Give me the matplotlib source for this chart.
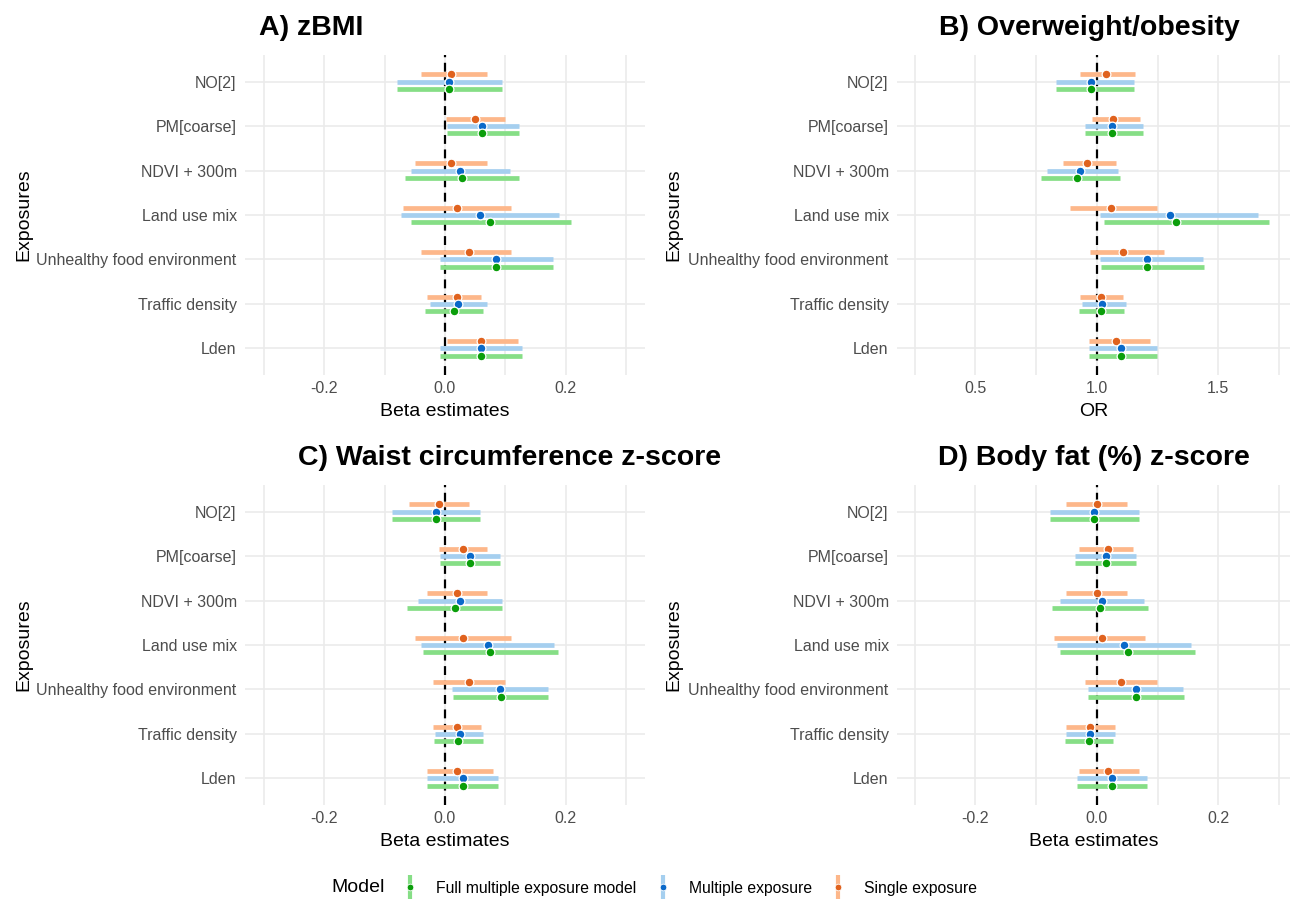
import matplotlib
matplotlib.use("Agg")
import matplotlib.pyplot as plt
from matplotlib.lines import Line2D
from matplotlib.legend_handler import HandlerTuple
import numpy as np

plt.rcParams['font.family'] = ['Liberation Sans', 'DejaVu Sans']

exposures = ["NO[2]", "PM[coarse]", "NDVI + 300m", "Land use mix",
             "Unhealthy food environment", "Traffic density", "Lden"]
models = ["Full multiple exposure model", "Multiple exposure", "Single exposure"]

# A) zBMI
a_single_est = [0.010, 0.050, 0.010, 0.020, 0.040, 0.020, 0.060]
a_single_lo = [-0.040, 0.001, -0.050, -0.070, -0.040, -0.030, 0.003]
a_single_hi = [0.070, 0.100, 0.070, 0.110, 0.110, 0.060, 0.120]
a_multi_est = [0.007, 0.062, 0.025, 0.058, 0.085, 0.022, 0.059]
a_multi_lo = [-0.080, 0.003, -0.057, -0.072, -0.008, -0.025, -0.009]
a_multi_hi = [0.094, 0.122, 0.107, 0.189, 0.179, 0.069, 0.128]
a_full_est = [0.007, 0.062, 0.028, 0.075, 0.085, 0.015, 0.059]
a_full_lo = [-0.080, 0.003, -0.066, -0.056, -0.008, -0.033, -0.009]
a_full_hi = [0.094, 0.122, 0.122, 0.208, 0.179, 0.063, 0.128]

# B) Overweight/obesity (OR)
b_single_est = [1.038, 1.068, 0.959, 1.058, 1.108, 1.018, 1.078]
b_single_lo = [0.929, 0.979, 0.860, 0.890, 0.970, 0.929, 0.968]
b_single_hi = [1.158, 1.178, 1.078, 1.248, 1.277, 1.108, 1.218]
b_multi_est = [0.977, 1.063, 0.929, 1.299, 1.205, 1.023, 1.099]
b_multi_lo = [0.832, 0.951, 0.793, 1.012, 1.012, 0.937, 0.968]
b_multi_hi = [1.151, 1.190, 1.088, 1.664, 1.438, 1.119, 1.248]
b_full_est = [0.977, 1.063, 0.918, 1.326, 1.208, 1.015, 1.099]
b_full_lo = [0.832, 0.951, 0.768, 1.030, 1.015, 0.927, 0.968]
b_full_hi = [1.151, 1.190, 1.097, 1.707, 1.442, 1.112, 1.248]

# C) Waist circumference z-score
c_single_est = [-0.010, 0.030, 0.020, 0.030, 0.040, 0.020, 0.020]
c_single_lo = [-0.060, -0.010, -0.030, -0.050, -0.020, -0.020, -0.030]
c_single_hi = [0.040, 0.070, 0.070, 0.110, 0.100, 0.060, 0.080]
c_multi_est = [-0.015, 0.041, 0.024, 0.071, 0.091, 0.024, 0.030]
c_multi_lo = [-0.088, -0.009, -0.045, -0.040, 0.012, -0.016, -0.029]
c_multi_hi = [0.058, 0.091, 0.094, 0.181, 0.170, 0.063, 0.088]
c_full_est = [-0.015, 0.041, 0.016, 0.075, 0.092, 0.022, 0.030]
c_full_lo = [-0.088, -0.009, -0.063, -0.036, 0.013, -0.018, -0.029]
c_full_hi = [0.058, 0.091, 0.095, 0.187, 0.171, 0.063, 0.088]

# D) Body fat (%) z-score
d_single_est = [0.000, 0.019, 0.000, 0.009, 0.039, -0.011, 0.019]
d_single_lo = [-0.050, -0.030, -0.050, -0.070, -0.020, -0.050, -0.030]
d_single_hi = [0.049, 0.059, 0.049, 0.079, 0.099, 0.030, 0.069]
d_multi_est = [-0.004, 0.015, 0.008, 0.045, 0.064, -0.011, 0.025]
d_multi_lo = [-0.077, -0.036, -0.061, -0.065, -0.015, -0.050, -0.033]
d_multi_hi = [0.070, 0.065, 0.077, 0.155, 0.142, 0.030, 0.083]
d_full_est = [-0.004, 0.015, 0.006, 0.051, 0.064, -0.013, 0.025]
d_full_lo = [-0.077, -0.036, -0.073, -0.060, -0.015, -0.053, -0.033]
d_full_hi = [0.070, 0.065, 0.085, 0.162, 0.143, 0.027, 0.083]

bar_col = {"Full multiple exposure model": "#86DE86",
           "Multiple exposure": "#A5CFEF",
           "Single exposure": "#FDB78A"}
pt_col = {"Full multiple exposure model": "#0A9E0A",
          "Multiple exposure": "#0A69C9",
          "Single exposure": "#E0621E"}
offset = {"Full multiple exposure model": -0.166,
          "Multiple exposure": 0.0,
          "Single exposure": 0.166}

panels = [
    ("A) zBMI", "Beta estimates", 0.0, (-0.331, 0.331), [-0.2, 0.0, 0.2], [-0.3, -0.1, 0.1, 0.3],
     {"Single exposure": (a_single_est, a_single_lo, a_single_hi),
      "Multiple exposure": (a_multi_est, a_multi_lo, a_multi_hi),
      "Full multiple exposure model": (a_full_est, a_full_lo, a_full_hi)}),
    ("B) Overweight/obesity", "OR", 1.0, (0.177, 1.795), [0.5, 1.0, 1.5], [0.25, 0.75, 1.25, 1.75],
     {"Single exposure": (b_single_est, b_single_lo, b_single_hi),
      "Multiple exposure": (b_multi_est, b_multi_lo, b_multi_hi),
      "Full multiple exposure model": (b_full_est, b_full_lo, b_full_hi)}),
    ("C) Waist circumference z-score", "Beta estimates", 0.0, (-0.331, 0.331), [-0.2, 0.0, 0.2], [-0.3, -0.1, 0.1, 0.3],
     {"Single exposure": (c_single_est, c_single_lo, c_single_hi),
      "Multiple exposure": (c_multi_est, c_multi_lo, c_multi_hi),
      "Full multiple exposure model": (c_full_est, c_full_lo, c_full_hi)}),
    ("D) Body fat (%) z-score", "Beta estimates", 0.0, (-0.329, 0.318), [-0.2, 0.0, 0.2], [-0.3, -0.1, 0.1, 0.3],
     {"Single exposure": (d_single_est, d_single_lo, d_single_hi),
      "Multiple exposure": (d_multi_est, d_multi_lo, d_multi_hi),
      "Full multiple exposure model": (d_full_est, d_full_lo, d_full_hi)}),
]

W, H = 1293, 900
fig = plt.figure(figsize=(W / 100, H / 100), dpi=100)

# panel boxes in pixels: left, top, right, bottom
boxes = [(245, 55, 645, 375), (897, 55, 1290, 375),
         (245, 485, 645, 805), (897, 485, 1290, 805)]
title_pos = [(259, 35), (939, 35), (298, 465), (938, 465)]
ylab_x = [32, 682, 32, 682]

ypos = np.arange(len(exposures), 0, -1)

for i, (title, xlab, ref, xlim, major, minor, data) in enumerate(panels):
    l, t, r, b = boxes[i]
    ax = fig.add_axes([l / W, 1 - b / H, (r - l) / W, (b - t) / H])
    for s in ax.spines.values():
        s.set_visible(False)
    ax.set_xlim(*xlim)
    ax.set_ylim(0.4, 7.6)
    ax.set_xticks(major)
    ax.set_xticks(minor, minor=True)
    ax.set_xticklabels([f"{v:.1f}" for v in major])
    ax.set_yticks(ypos)
    ax.set_yticklabels(exposures)
    ax.tick_params(axis='both', length=0, labelsize=11.5, labelcolor='#4D4D4D')
    ax.tick_params(axis='y', pad=6)
    ax.tick_params(axis='x', pad=4)
    ax.tick_params(axis='x', which='minor', length=0)
    ax.grid(True, which='major', color='#EBEBEB', lw=1.2, zorder=0)
    ax.grid(True, which='minor', axis='x', color='#EBEBEB', lw=1.2, zorder=0)
    ax.set_axisbelow(True)
    ax.axvline(ref, color='black', lw=1.6, ls=(0, (4, 2.5)), zorder=1)

    for m in ["Single exposure", "Multiple exposure", "Full multiple exposure model"]:
        est, lo, hi = data[m]
        yy = ypos + offset[m]
        ax.hlines(yy, lo, hi, color=bar_col[m], lw=3.4, zorder=2)
        ax.plot(est, yy, 'o', ms=6.3, mfc=pt_col[m], mec='white', mew=0.9, zorder=3)

    ax.set_xlabel(xlab, fontsize=14, color='black')
    ax.xaxis.set_label_coords(0.5, -0.088)
    ax.set_ylabel("Exposures", fontsize=14, color='black')
    ax.yaxis.set_label_coords((ylab_x[i] - l) / (r - l), 0.5)

    tx, ty = title_pos[i]
    fig.text(tx / W, 1 - ty / H, title, fontsize=20.5, fontweight='bold',
             ha='left', va='baseline')

# legend: light vertical bar with a dark dot on top of it
handles = []
for m in models:
    bar = Line2D([], [], marker='|', ms=17, mew=3, color=bar_col[m], ls='none')
    dot = Line2D([], [], marker='o', ms=4.8, mfc=pt_col[m], mec='white', mew=0.6, ls='none')
    handles.append((bar, dot))
fig.text(331 / W, 1 - 888 / H, "Model", fontsize=14, ha='left', va='center')
fig.legend(handles, models, loc='center left', bbox_to_anchor=(402 / W, 1 - 888 / H),
           ncol=3, frameon=False, fontsize=11.3, handlelength=1.0, handletextpad=1.15,
           columnspacing=1.2, borderpad=0, borderaxespad=0,
           handler_map={tuple: HandlerTuple(ndivide=1, pad=0)})

fig.savefig("out.png", dpi=100, facecolor='white')
